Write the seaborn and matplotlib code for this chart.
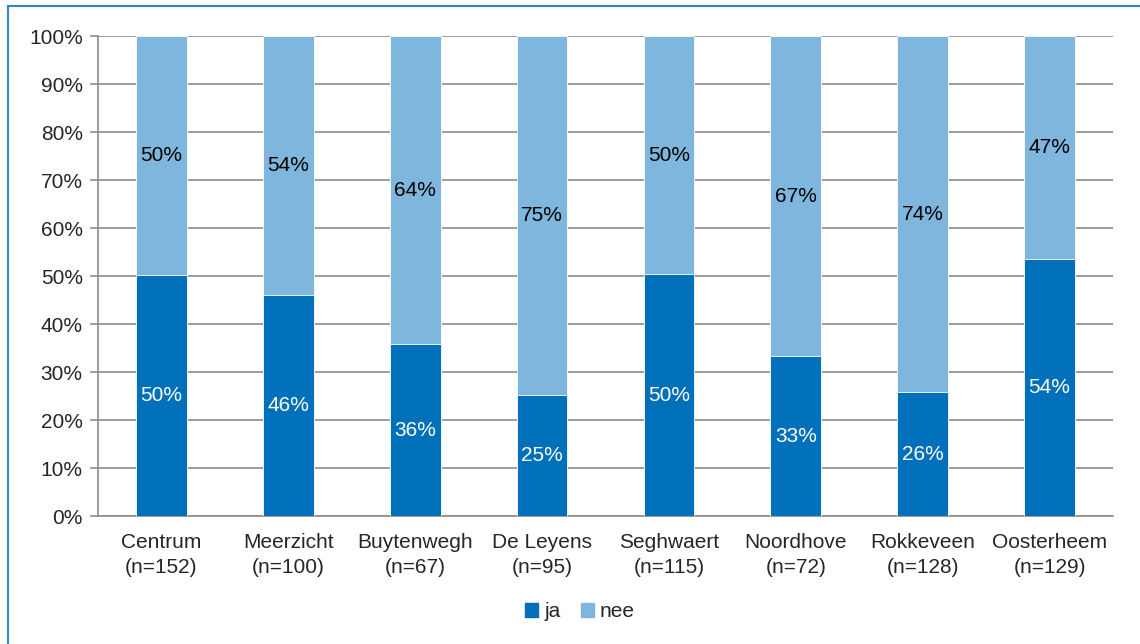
import pandas as pd
import matplotlib.pyplot as plt
import matplotlib.patches as mpatches
import seaborn as sb

wijken = ['Centrum', 'Meerzicht', 'Buytenwegh', 'De Leyens', 'Seghwaert',
          'Noordhove', 'Rokkeveen', 'Oosterheem']
n_resp = [152, 100, 67, 95, 115, 72, 128, 129]
ja = [50.2, 46.0, 35.8, 25.3, 50.4, 33.3, 25.8, 53.5]
nee = [49.8, 54.0, 64.2, 74.7, 49.6, 66.7, 74.2, 46.5]

c_ja = '#0070BA'
c_nee = '#7FB6DD'

sb.set_style('white')
plt.rcParams['font.family'] = ['Liberation Sans', 'DejaVu Sans']
fs = 15

df = pd.DataFrame({'wijk': wijken, 'ja': ja, 'nee': nee})
df['totaal'] = df['ja'] + df['nee']

fig = plt.figure(figsize=(11.4, 6.44), dpi=100)
ax = fig.add_axes([98/1140, 128/644, (1113-98)/1140, 480/644])

# nee bovenop ja: eerst totaal tekenen, dan ja eroverheen
sb.barplot(data=df, x='wijk', y='totaal', color=c_nee, width=0.4,
           saturation=1, ax=ax, edgecolor='white', linewidth=0.6, zorder=3)
sb.barplot(data=df, x='wijk', y='ja', color=c_ja, width=0.4,
           saturation=1, ax=ax, edgecolor='white', linewidth=0.6, zorder=3)

def pct(v):
    return f'{int(v + 0.5)}%'

for i, row in df.iterrows():
    ax.text(i, row['ja'] / 2, pct(row['ja']), ha='center', va='center',
            color='white', fontsize=fs, zorder=4)
    ax.text(i, row['ja'] + row['nee'] / 2, pct(row['nee']), ha='center',
            va='center', color='black', fontsize=fs, zorder=4)

ax.set_xlim(-0.5, len(wijken) - 0.5)
ax.set_ylim(0, 100)
ax.set_yticks(range(0, 101, 10))
ax.set_yticklabels([f'{t}%' for t in range(0, 101, 10)], fontsize=fs)
ax.set_xticks(range(len(wijken)))
ax.set_xticklabels([f'{w}\n(n={n})' for w, n in zip(wijken, n_resp)],
                   fontsize=fs, linespacing=1.4)
ax.set_xticks([i - 0.5 for i in range(len(wijken) + 1)], minor=True)
ax.tick_params(axis='x', which='major', length=0, pad=12)
ax.tick_params(axis='x', which='minor', length=6, width=1.2, color='#8C8C8C',
               direction='out')
ax.tick_params(axis='y', length=6, width=1.2, color='#8C8C8C', direction='out',
               left=True, pad=5)
ax.set_xlabel('')
ax.set_ylabel('')

ax.yaxis.grid(True, color='#8C8C8C', linewidth=1.2, zorder=0)
ax.set_axisbelow(True)
for s in ['top', 'right']:
    ax.spines[s].set_visible(False)
for s in ['left', 'bottom']:
    ax.spines[s].set_color('#8C8C8C')
    ax.spines[s].set_linewidth(1.2)

handles = [mpatches.Patch(color=c_ja, label='ja'),
           mpatches.Patch(color=c_nee, label='nee')]
fig.legend(handles=handles, loc='center', bbox_to_anchor=(0.509, 0.05),
           ncol=2, frameon=False, fontsize=fs, handlelength=0.6,
           handleheight=0.6, handletextpad=0.3, columnspacing=1.0)

# kader rond de grafiek (loopt rechts en onder door)
fig.patches.append(mpatches.Rectangle((8/1140, -0.05), 1.1, (644-6)/644 + 0.05,
                                      transform=fig.transFigure, fill=False,
                                      edgecolor='#2F86C8', linewidth=1.5))

plt.savefig('out.png', dpi=100)
